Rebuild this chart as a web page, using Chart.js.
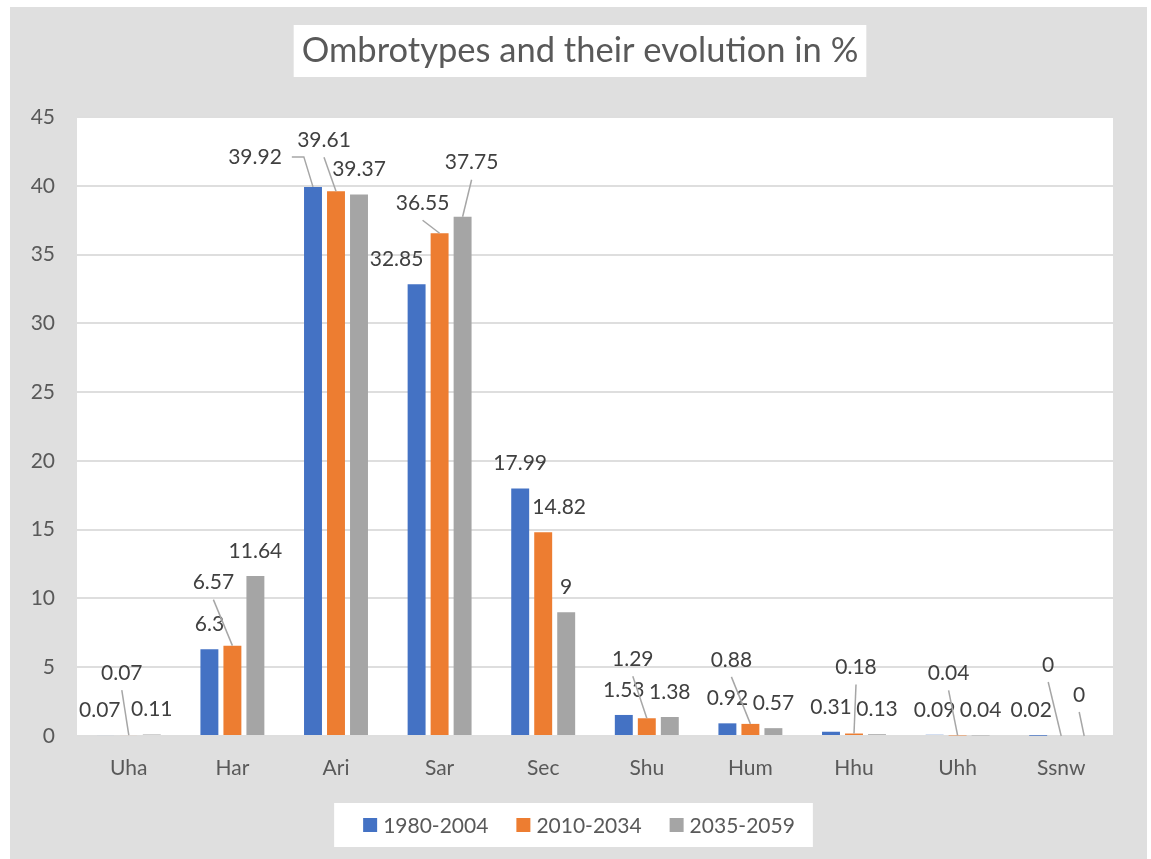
<!DOCTYPE html>
<html>
<head>
<meta charset="utf-8">
<script src="https://cdn.jsdelivr.net/npm/chart.js@4"></script>
<style>
  html, body { margin: 0; padding: 0; background: #fff; }
  #wrap { width: 1151px; height: 859px; }
</style>
</head>
<body>
<div id="wrap"><canvas id="ombroChart" width="1151" height="859"></canvas></div>
<script>
const categories = ['Uha', 'Har', 'Ari', 'Sar', 'Sec', 'Shu', 'Hum', 'Hhu', 'Uhh', 'Ssnw'];
const seriesNames = ['1980-2004', '2010-2034', '2035-2059'];
const values1980 = [0.07, 6.3, 39.92, 32.85, 17.99, 1.53, 0.92, 0.31, 0.09, 0.02];
const values2010 = [0.07, 6.57, 39.61, 36.55, 14.82, 1.29, 0.88, 0.18, 0.04, 0];
const values2035 = [0.11, 11.64, 39.37, 37.75, 9, 1.38, 0.57, 0.13, 0.04, 0];
const yMin = 0, yMax = 45, yStep = 5;
const chartTitle = 'Ombrotypes and their evolution in %';

const colors = ['#4472C4', '#ED7D31', '#A5A5A5'];
const textColor = '#595959';
const labelColor = '#404040';
const fontFamily = 'Lato, "Noto Sans", sans-serif';

// label nudges relative to the default spot above each bar: [dx, dy, leader]
const labelNudges = [
  [[-6, 0], null, null, [-20, 0], null, null, null, null, null, [-7, 0]],
  [[-7, -37, 'line'], [-19, -38, 'line'], [-12, -26, 'line'], [-17, -5, 'line'], [16, 0],
   [-14, -34, 'line'], [-19, -39, 'line'], [2, -41, 'line'], [-9, -37, 'line'], [-13, -46, 'line']],
  [null, null, null, [9, -29, 'line'], null, null, null, null, null, [-5, -16, 'line']]
];
labelNudges[0][2] = [-58, -5, 'elbow'];

const panelPlugin = {
  id: 'panel',
  beforeDraw(chart) {
    const { ctx, chartArea } = chart;
    ctx.save();
    ctx.fillStyle = '#ffffff';
    ctx.fillRect(0, 0, chart.width, chart.height);
    ctx.fillStyle = '#dfdfdf';
    ctx.fillRect(10, 7, chart.width - 14, chart.height - 7);
    ctx.fillStyle = '#ffffff';
    ctx.fillRect(chartArea.left, chartArea.top, chartArea.right - chartArea.left, chartArea.bottom - chartArea.top);

    // title in its white box
    ctx.font = '34.5px ' + fontFamily;
    const tw = ctx.measureText(chartTitle).width;
    const cx = 580, cy = 51;
    ctx.fillStyle = '#ffffff';
    ctx.fillRect(cx - tw / 2 - 8, 25, tw + 16, 52);
    ctx.fillStyle = textColor;
    ctx.textAlign = 'center';
    ctx.textBaseline = 'middle';
    ctx.fillText(chartTitle, cx, cy);
    ctx.restore();
  },
  afterDraw(chart) {
    // legend
    const { ctx } = chart;
    ctx.save();
    ctx.font = '21px ' + fontFamily;
    const box = 14, gap = 6, spacing = 28;
    const widths = chart.data.datasets.map(d => ctx.measureText(d.label).width);
    const total = widths.reduce((a, w) => a + box + gap + w, 0) + spacing * (widths.length - 1);
    const cx = 579, cy = 825;
    let x = cx - total / 2;
    ctx.fillStyle = '#ffffff';
    ctx.fillRect(x - 29, 803, total + 29 + 18, 44);
    ctx.textBaseline = 'middle';
    ctx.textAlign = 'left';
    chart.data.datasets.forEach((d, i) => {
      ctx.fillStyle = d.backgroundColor;
      ctx.fillRect(x, cy - box / 2, box, box);
      ctx.fillStyle = textColor;
      ctx.fillText(d.label, x + box + gap, cy + 1);
      x += box + gap + widths[i] + spacing;
    });
    ctx.restore();
  }
};

const labelPlugin = {
  id: 'barLabels',
  afterDatasetsDraw(chart) {
    const { ctx } = chart;
    ctx.save();
    ctx.font = '21px ' + fontFamily;
    ctx.textAlign = 'center';
    ctx.textBaseline = 'middle';
    chart.data.datasets.forEach((ds, i) => {
      const meta = chart.getDatasetMeta(i);
      meta.data.forEach((bar, j) => {
        const nudge = labelNudges[i][j] || [0, 0];
        const lx = bar.x + nudge[0];
        const ly = bar.y - 25 + nudge[1];
        const text = String(ds.data[j]);
        if (nudge[2]) {
          ctx.strokeStyle = '#a6a6a6';
          ctx.lineWidth = 1.5;
          ctx.beginPath();
          if (nudge[2] === 'elbow') {
            const sx = lx + ctx.measureText(text).width / 2 + 10;
            ctx.moveTo(sx, ly);
            ctx.lineTo(sx + 12, ly);
          } else {
            ctx.moveTo(lx, ly + 17);
          }
          ctx.lineTo(bar.x, bar.y);
          ctx.stroke();
        }
        ctx.fillStyle = labelColor;
        ctx.fillText(text, lx, ly);
      });
    });
    ctx.restore();
  }
};

const seriesValues = [values1980, values2010, values2035];

new Chart(document.getElementById('ombroChart'), {
  type: 'bar',
  data: {
    labels: categories,
    datasets: seriesNames.map((name, i) => ({
      label: name,
      data: seriesValues[i],
      backgroundColor: colors[i],
      borderWidth: 0,
      categoryPercentage: 0.666,
      barPercentage: 0.78
    }))
  },
  options: {
    responsive: false,
    animation: false,
    layout: { padding: { left: 0, right: 38, top: 117, bottom: 0 } },
    plugins: {
      legend: { display: false },
      title: { display: false },
      tooltip: { enabled: false }
    },
    scales: {
      x: {
        grid: { display: false },
        border: { display: false },
        ticks: { color: textColor, font: { family: fontFamily, size: 21 }, padding: 12 },
        afterFit(scale) { scale.height = 123; }
      },
      y: {
        min: yMin,
        max: yMax,
        ticks: { stepSize: yStep, color: textColor, font: { family: fontFamily, size: 21 }, padding: 22 },
        grid: { color: '#dedede', lineWidth: 2, drawTicks: false },
        border: { display: false },
        afterFit(scale) { scale.width = 77; }
      }
    }
  },
  plugins: [panelPlugin, labelPlugin]
});
</script>
</body>
</html>
